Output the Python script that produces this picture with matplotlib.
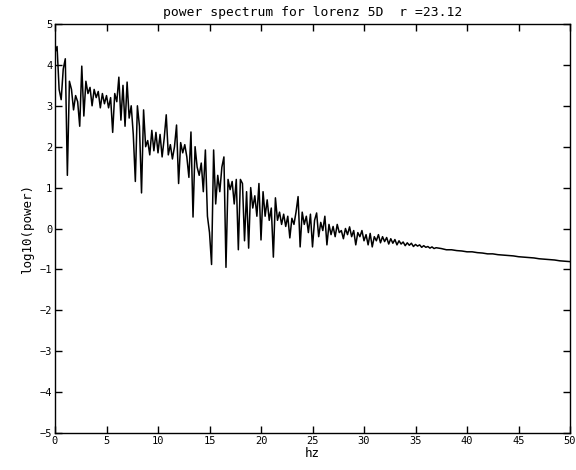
import numpy as np
import matplotlib
matplotlib.use("Agg")
import matplotlib.pyplot as plt

# log10(power), 0.2 hz steps from 0 to 37 hz
noisy_power = [
    4.30, 4.45, 3.40, 3.15, 3.90, 4.15, 1.30, 3.60, 3.40, 2.90,
    3.25, 3.10, 2.50, 3.97, 2.75, 3.60, 3.30, 3.45, 3.00, 3.40,
    3.20, 3.35, 2.95, 3.30, 3.05, 3.25, 2.95, 3.20, 2.35, 3.30,
    3.10, 3.70, 2.65, 3.50, 2.50, 3.58, 2.70, 3.00, 2.30, 1.15,
    3.00, 2.50, 0.87, 2.90, 2.00, 2.15, 1.80, 2.40, 1.90, 2.35,
    1.85, 2.30, 1.75, 2.20, 2.78, 1.80, 2.05, 1.70, 2.00, 2.53,
    1.10, 2.10, 1.85, 2.05, 1.75, 1.25, 2.36, 0.28, 2.00, 1.50,
    1.30, 1.60, 0.90, 1.92, 0.30, -0.10, -0.88, 1.92, 0.60, 1.30,
    0.90, 1.50, 1.75, -0.95, 1.20, 0.95, 1.15, 0.60, 1.20, -0.52,
    1.20, 1.10, -0.30, 0.90, -0.48, 1.00, 0.50, 0.80, 0.30, 1.10,
    -0.28, 0.90, 0.30, 0.70, 0.20, 0.50, -0.70, 0.75, 0.20, 0.40,
    0.10, 0.35, 0.05, 0.30, -0.23, 0.25, 0.10, 0.40, 0.78, -0.45,
    0.40, 0.10, 0.30, -0.10, 0.35, -0.45, 0.20, 0.38, -0.20, 0.15,
    -0.05, 0.30, -0.40, 0.10, -0.15, 0.05, -0.20, 0.10, -0.10, -0.05,
    -0.25, 0.00, -0.15, 0.04, -0.20, -0.05, -0.40, -0.10, -0.20, -0.05,
    -0.30, -0.15, -0.40, -0.12, -0.45, -0.20, -0.30, -0.15, -0.35, -0.20,
    -0.32, -0.22, -0.38, -0.25, -0.36, -0.27, -0.40, -0.30, -0.38, -0.33,
    -0.42, -0.35, -0.41, -0.36, -0.44, -0.39, -0.43, -0.40, -0.46, -0.42,
    -0.46, -0.44, -0.48, -0.45, -0.49, -0.47,
]

# smooth tail, 0.5 hz steps from 37.5 to 50 hz
tail_power = [
    -0.49, -0.52, -0.52, -0.54, -0.55, -0.57, -0.57, -0.59, -0.60, -0.62,
    -0.62, -0.64, -0.65, -0.66, -0.67, -0.69, -0.70, -0.71, -0.72, -0.74,
    -0.75, -0.76, -0.77, -0.79, -0.80, -0.81,
]

noisy_hz = np.arange(len(noisy_power)) * 0.2
tail_hz = 37.5 + np.arange(len(tail_power)) * 0.5

hz = np.concatenate([noisy_hz, tail_hz])
log_power = np.concatenate([noisy_power, tail_power])

xticks = [0, 5, 10, 15, 20, 25, 30, 35, 40, 45, 50]
yticks = [-5, -4, -3, -2, -1, 0, 1, 2, 3, 4, 5]

plt.rcParams['font.family'] = ['DejaVu Sans Mono']

fig = plt.figure(figsize=(5.76, 4.70), dpi=100)
ax = fig.add_axes([55 / 576, 37 / 470, 515 / 576, 409 / 470])

ax.plot(hz, log_power, color='black', linewidth=1.1)

ax.set_xlim(0, 50)
ax.set_ylim(-5, 5)
ax.set_xticks(xticks)
ax.set_yticks(yticks)
ax.tick_params(direction='in', length=5, width=1, top=True, right=True,
               labelsize=7.5, pad=2)
for s in ax.spines.values():
    s.set_linewidth(1)

ax.set_title("power spectrum for lorenz 5D  r =23.12", fontsize=9.4, pad=6)
ax.set_xlabel("hz", fontsize=9, labelpad=1)
ax.set_ylabel("log10(power)", fontsize=9, labelpad=4)

fig.savefig("out.png", dpi=100)
